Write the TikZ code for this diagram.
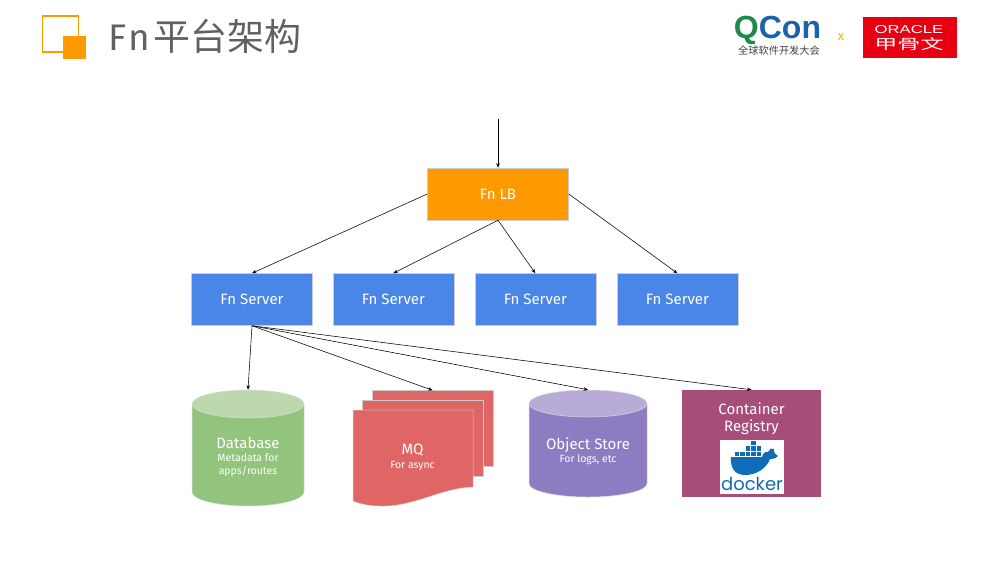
\documentclass[tikz,border=0pt]{standalone}
\usepackage{fontspec}
\setmainfont{Fira Sans}
\newfontfamily\cjk{Noto Sans CJK SC}
\newfontfamily\logofont{Liberation Sans}
\newfontfamily\dockerfont{Poppins}
\usetikzlibrary{shapes.geometric,arrows.meta}
\definecolor{fnorange}{HTML}{FF9900}
\definecolor{fnblue}{HTML}{4A86E8}
\definecolor{fngreen}{HTML}{93C47D}
\definecolor{fngreentop}{HTML}{BDD8AE}
\definecolor{fnred}{HTML}{E06666}
\definecolor{fnpurple}{HTML}{8E7CC3}
\definecolor{fnpurpletop}{HTML}{B8ABD8}
\definecolor{fnplum}{HTML}{A64D79}
\definecolor{dockerblue}{HTML}{0F6CB6}
\definecolor{qgreen}{HTML}{1B8A4B}
\definecolor{qblue}{HTML}{1C62A8}
\definecolor{oraclered}{HTML}{E60012}
\tikzset{
  box/.style={draw=black!20,line width=.5pt,text=white,inner sep=0pt,minimum height=52,font=\fontsize{15}{17}\selectfont},
  server/.style={box,fill=fnblue,minimum width=121},
  sheet/.style={draw=white!80!black,line width=.5pt,fill=fnred,inner sep=0pt,minimum width=121,minimum height=76},
  storetop/.style={ellipse,draw=white!85!black,line width=.5pt,inner sep=0pt},
  storebody/.style={draw=white!85!black,line width=.5pt},
  caption/.style={text=white,align=center,inner sep=0pt,font=\fontsize{15}{17}\selectfont},
  small/.style={font=\fontsize{10.5}{12.5}\selectfont},
  link/.style={line width=.55pt,-{Stealth[length=4.5pt,width=3.6pt]}},
  crate/.style={fill=dockerblue,minimum size=4.6,inner sep=0pt}
}
\begin{document}
\begin{tikzpicture}[x=1pt,y=-1pt]
  \useasboundingbox (0,0) rectangle (1000,563);
  % header
  \node[draw=fnorange,line width=1.5pt,minimum size=36,inner sep=0pt] (iconback) at (60.5,34) {};
  \node[fill=fnorange,minimum size=23,inner sep=0pt] (iconfront) at (74.5,47.5) {};
  \node[anchor=west,inner sep=0pt,text=black!62,font=\fontsize{37}{40}\selectfont] (title) at (108,36) {F\hspace{2pt}n\hspace{3pt}{\cjk 平台架构}};
  \node[inner sep=0pt,font=\logofont\bfseries\fontsize{32}{32}\selectfont] (qcon) at (777.5,30) {\textcolor{qgreen}{Q}\textcolor{qblue}{Con}};
  \node[inner sep=0pt,text=black!75,font=\cjk\fontsize{10.2}{11}\selectfont] (qconsub) at (779,51) {全球软件开发大会};
  \node[inner sep=0pt,text=fnorange!80!yellow,font=\fontsize{13}{13}\selectfont] (times) at (841,37) {x};
  \node[fill=oraclered,minimum width=94,minimum height=41,inner sep=0pt] (oracle) at (910,37.5) {};
  \node[inner sep=0pt,text=white,xscale=1.45,font=\logofont\fontsize{11.5}{12}\selectfont] (oracleen) at (909,30) {ORACLE};
  \node[inner sep=0pt,text=white,xscale=1.65,font=\cjk\fontsize{14}{14}\selectfont] (oraclecn) at (909,44) {甲骨文};
  % lb and servers
  \coordinate (in) at (498,119);
  \node[box,fill=fnorange,minimum width=141] (lb) at (498,194) {Fn LB};
  \foreach \i/\x in {1/252,2/393.3,3/535.3,4/677.3}
    \node[server] (s\i) at (\x,299.5) {Fn Server};
  % stores
  \foreach \n/\x/\rx/\ry/\ya/\yb/\cbody/\ctop in {db/248/56/14/404/492/fngreen/fngreentop,obj/588/59/13.5/403.5/483.5/fnpurple/fnpurpletop} {
    \draw[storebody,fill=\cbody] (\x-\rx,\ya) -- (\x-\rx,\yb)
      arc[start angle=180,end angle=360,x radius=\rx pt,y radius=\ry pt] -- (\x+\rx,\ya) -- cycle;
    \node[storetop,fill=\ctop,minimum width=2*\rx,minimum height=2*\ry] (\n) at (\x,\ya) {};
  }
  \node[caption] (dbtext) at (248,443) {Database};
  \node[caption,small] (dbsub) at (248,465) {Metadata for\\apps/routes};
  \node[sheet] (mqc) at (432.5,428.5) {};
  \node[sheet] (mqb) at (422.5,438.5) {};
  \fill[fnred,draw=white!80!black,line width=.5pt] (353,410) -- (473,410) -- (473,487)
    .. controls (440,488) and (415,507) .. (380,506) .. controls (370,506) and (360,504) .. (353,501) -- cycle;
  \node[caption] (mq) at (412.5,450) {MQ};
  \node[caption,small] (mqsub) at (412.5,465.5) {For async};
  \node[caption] (objtext) at (588,445) {Object Store};
  \node[caption,small] (objsub) at (588,459.5) {For logs, etc};
  \node[box,fill=fnplum,minimum width=139,minimum height=107,draw=none] (reg) at (751.5,443.5) {};
  \node[caption,font=\fontsize{15}{17.5}\selectfont] (regtext) at (751.5,418.5) {Container\\Registry};
  % docker logo
  \node[fill=white,minimum width=64,minimum height=54,inner sep=0pt] (logo) at (752,467) {};
  \fill[dockerblue] (731,457) -- (762,457) .. controls (763,453) and (766,451) .. (768,452)
    .. controls (770,449) and (772,447) .. (774,449) .. controls (773,452) and (776,455) .. (778,456)
    .. controls (775,459) and (772,459) .. (770,459) .. controls (766,469) and (756,475) .. (745,475)
    .. controls (735,475) and (730,468) .. (731,457) -- cycle;
  \foreach \x in {737,742.5,748,753.5,759}
    \node[crate] (c\x) at (\x,454) {};
  \foreach \x in {748,753.5,759}
    \node[crate] (d\x) at (\x,448.5) {};
  \node[crate] (e) at (753.5,443) {};
  \node[inner sep=0pt,text=dockerblue,font=\dockerfont\fontsize{18}{18}\selectfont] (docker) at (752,484) {docker};
  % links
  \draw[link] (in) -- (lb.north);
  \draw[link] (lb.west) -- (s1.north);
  \draw[link] (lb.south) -- (s2.north);
  \draw[link] (lb.south) -- (s3.north);
  \draw[link] (lb.east) -- (s4.north);
  \draw[link] (s1.south) -- (db.north);
  \draw[link] (s1.south) -- (mqc.north);
  \draw[link] (s1.south) -- (obj.north);
  \draw[link] (s1.south) -- (reg.north);
\end{tikzpicture}
\end{document}
